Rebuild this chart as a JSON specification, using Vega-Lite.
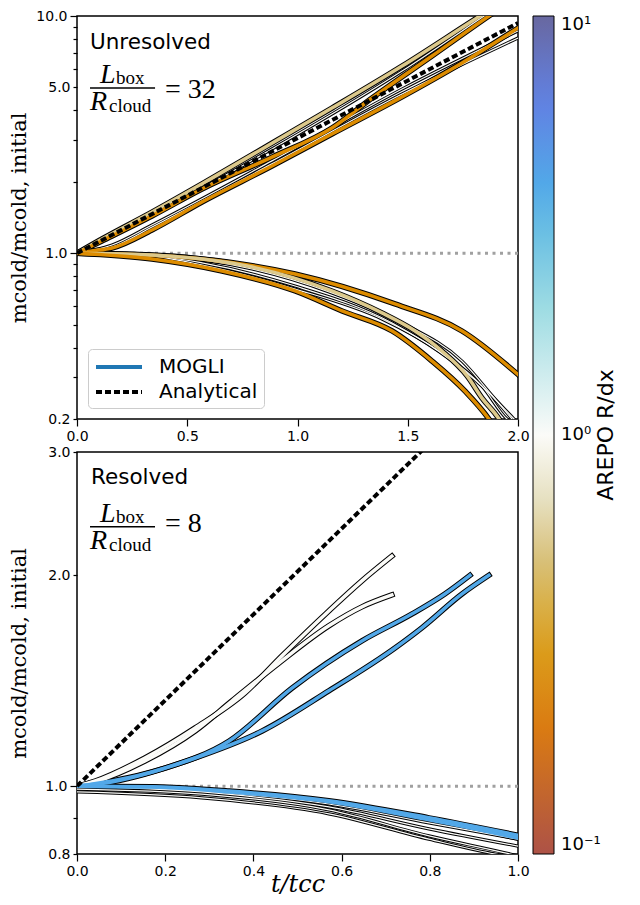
{
  "$schema": "https://vega.github.io/schema/vega-lite/v6.json",
  "background": "white",
  "padding": {"left": 7, "top": 8, "right": 5, "bottom": 5},
  "config": {
    "font": "DejaVu Sans",
    "view": {"stroke": "black", "strokeWidth": 1.5},
    "axis": {"grid": false, "domain": false, "tickColor": "black", "tickWidth": 1.2, "labelFont": "DejaVu Sans", "labelFontSize": 14, "labelColor": "black", "labelPadding": 3, "labelOverlap": false, "labelFlush": false, "titleColor": "black", "titleFontWeight": "normal", "titleFont": "DejaVu Serif"}
  },
  "datasets": {
    "curves": [
      {"panel": "top", "curve": "T1", "style": "thin", "R": 1, "t": 0, "m": 1},
      {"panel": "top", "curve": "T1", "style": "thin", "R": 1, "t": 0.34, "m": 1.449},
      {"panel": "top", "curve": "T1", "style": "thin", "R": 1, "t": 0.884, "m": 2.75},
      {"panel": "top", "curve": "T1", "style": "thin", "R": 1, "t": 1.474, "m": 5.86},
      {"panel": "top", "curve": "T1", "style": "thin", "R": 1, "t": 1.846, "m": 10.0},
      {"panel": "top", "curve": "T1", "style": "thin", "R": 1, "t": 2.0, "m": 12.5},
      {"panel": "top", "curve": "T2", "style": "thin", "R": 1, "t": 0, "m": 1},
      {"panel": "top", "curve": "T2", "style": "thin", "R": 1, "t": 0.159, "m": 1.083},
      {"panel": "top", "curve": "T2", "style": "thin", "R": 1, "t": 0.34, "m": 1.315},
      {"panel": "top", "curve": "T2", "style": "thin", "R": 1, "t": 0.884, "m": 2.45},
      {"panel": "top", "curve": "T2", "style": "thin", "R": 1, "t": 1.474, "m": 4.92},
      {"panel": "top", "curve": "T2", "style": "thin", "R": 1, "t": 2.0, "m": 8.65},
      {"panel": "top", "curve": "T3", "style": "thin", "R": 1, "t": 0, "m": 1},
      {"panel": "top", "curve": "T3", "style": "thin", "R": 1, "t": 0.159, "m": 1.062},
      {"panel": "top", "curve": "T3", "style": "thin", "R": 1, "t": 0.34, "m": 1.29},
      {"panel": "top", "curve": "T3", "style": "thin", "R": 1, "t": 0.884, "m": 2.38},
      {"panel": "top", "curve": "T3", "style": "thin", "R": 1, "t": 1.474, "m": 4.69},
      {"panel": "top", "curve": "T3", "style": "thin", "R": 1, "t": 2.0, "m": 8.08},
      {"panel": "top", "curve": "T4", "style": "thin", "R": 1, "t": 0, "m": 1},
      {"panel": "top", "curve": "T4", "style": "thin", "R": 1, "t": 0.3, "m": 0.985},
      {"panel": "top", "curve": "T4", "style": "thin", "R": 1, "t": 0.567, "m": 0.91},
      {"panel": "top", "curve": "T4", "style": "thin", "R": 1, "t": 0.989, "m": 0.727},
      {"panel": "top", "curve": "T4", "style": "thin", "R": 1, "t": 1.429, "m": 0.508},
      {"panel": "top", "curve": "T4", "style": "thin", "R": 1, "t": 1.701, "m": 0.351},
      {"panel": "top", "curve": "T4", "style": "thin", "R": 1, "t": 1.882, "m": 0.25},
      {"panel": "top", "curve": "T4", "style": "thin", "R": 1, "t": 1.973, "m": 0.2},
      {"panel": "top", "curve": "T4", "style": "thin", "R": 1, "t": 2.0, "m": 0.187},
      {"panel": "top", "curve": "T5", "style": "thin", "R": 1, "t": 0, "m": 1},
      {"panel": "top", "curve": "T5", "style": "thin", "R": 1, "t": 0.3, "m": 0.982},
      {"panel": "top", "curve": "T5", "style": "thin", "R": 1, "t": 0.567, "m": 0.892},
      {"panel": "top", "curve": "T5", "style": "thin", "R": 1, "t": 0.989, "m": 0.706},
      {"panel": "top", "curve": "T5", "style": "thin", "R": 1, "t": 1.383, "m": 0.528},
      {"panel": "top", "curve": "T5", "style": "thin", "R": 1, "t": 1.655, "m": 0.379},
      {"panel": "top", "curve": "T5", "style": "thin", "R": 1, "t": 1.837, "m": 0.275},
      {"panel": "top", "curve": "T5", "style": "thin", "R": 1, "t": 1.95, "m": 0.2},
      {"panel": "top", "curve": "T5", "style": "thin", "R": 1, "t": 1.98, "m": 0.19},
      {"panel": "top", "curve": "T6", "style": "thin", "R": 1, "t": 0, "m": 1},
      {"panel": "top", "curve": "T6", "style": "thin", "R": 1, "t": 0.4, "m": 0.975},
      {"panel": "top", "curve": "T6", "style": "thin", "R": 1, "t": 0.794, "m": 0.858},
      {"panel": "top", "curve": "T6", "style": "thin", "R": 1, "t": 1.156, "m": 0.68},
      {"panel": "top", "curve": "T6", "style": "thin", "R": 1, "t": 1.474, "m": 0.508},
      {"panel": "top", "curve": "T6", "style": "thin", "R": 1, "t": 1.746, "m": 0.351},
      {"panel": "top", "curve": "T6", "style": "thin", "R": 1, "t": 1.905, "m": 0.238},
      {"panel": "top", "curve": "T6", "style": "thin", "R": 1, "t": 1.982, "m": 0.2},
      {"panel": "top", "curve": "T6", "style": "thin", "R": 1, "t": 2.0, "m": 0.192},
      {"panel": "top", "curve": "U1", "style": "thick", "R": 0.55, "t": 0, "m": 1},
      {"panel": "top", "curve": "U1", "style": "thick", "R": 0.55, "t": 0.113, "m": 1.148},
      {"panel": "top", "curve": "U1", "style": "thick", "R": 0.55, "t": 0.34, "m": 1.49},
      {"panel": "top", "curve": "U1", "style": "thick", "R": 0.55, "t": 0.567, "m": 1.96},
      {"panel": "top", "curve": "U1", "style": "thick", "R": 0.55, "t": 0.884, "m": 2.91},
      {"panel": "top", "curve": "U1", "style": "thick", "R": 0.55, "t": 1.156, "m": 4.09},
      {"panel": "top", "curve": "U1", "style": "thick", "R": 0.55, "t": 1.474, "m": 6.15},
      {"panel": "top", "curve": "U1", "style": "thick", "R": 0.55, "t": 1.828, "m": 10.0},
      {"panel": "top", "curve": "U1", "style": "thick", "R": 0.55, "t": 2.0, "m": 12.6},
      {"panel": "top", "curve": "U2", "style": "thick", "R": 0.25, "t": 0, "m": 1},
      {"panel": "top", "curve": "U2", "style": "thick", "R": 0.25, "t": 0.113, "m": 1.126},
      {"panel": "top", "curve": "U2", "style": "thick", "R": 0.25, "t": 0.34, "m": 1.435},
      {"panel": "top", "curve": "U2", "style": "thick", "R": 0.25, "t": 0.567, "m": 1.865},
      {"panel": "top", "curve": "U2", "style": "thick", "R": 0.25, "t": 0.884, "m": 2.54},
      {"panel": "top", "curve": "U2", "style": "thick", "R": 0.25, "t": 1.156, "m": 3.37},
      {"panel": "top", "curve": "U2", "style": "thick", "R": 0.25, "t": 1.338, "m": 4.51},
      {"panel": "top", "curve": "U2", "style": "thick", "R": 0.25, "t": 1.61, "m": 6.78},
      {"panel": "top", "curve": "U2", "style": "thick", "R": 0.25, "t": 1.868, "m": 10.0},
      {"panel": "top", "curve": "U2", "style": "thick", "R": 0.25, "t": 2.0, "m": 12.1},
      {"panel": "top", "curve": "U3", "style": "thick", "R": 0.25, "t": 0, "m": 1},
      {"panel": "top", "curve": "U3", "style": "thick", "R": 0.25, "t": 0.068, "m": 1.022},
      {"panel": "top", "curve": "U3", "style": "thick", "R": 0.25, "t": 0.159, "m": 1.052},
      {"panel": "top", "curve": "U3", "style": "thick", "R": 0.25, "t": 0.34, "m": 1.253},
      {"panel": "top", "curve": "U3", "style": "thick", "R": 0.25, "t": 0.567, "m": 1.644},
      {"panel": "top", "curve": "U3", "style": "thick", "R": 0.25, "t": 0.884, "m": 2.33},
      {"panel": "top", "curve": "U3", "style": "thick", "R": 0.25, "t": 1.156, "m": 3.18},
      {"panel": "top", "curve": "U3", "style": "thick", "R": 0.25, "t": 1.474, "m": 4.56},
      {"panel": "top", "curve": "U3", "style": "thick", "R": 0.25, "t": 1.746, "m": 6.34},
      {"panel": "top", "curve": "U3", "style": "thick", "R": 0.25, "t": 2.0, "m": 8.9},
      {"panel": "top", "curve": "D1", "style": "thick", "R": 0.25, "t": 0, "m": 1},
      {"panel": "top", "curve": "D1", "style": "thick", "R": 0.25, "t": 0.204, "m": 0.992},
      {"panel": "top", "curve": "D1", "style": "thick", "R": 0.25, "t": 0.567, "m": 0.945},
      {"panel": "top", "curve": "D1", "style": "thick", "R": 0.25, "t": 0.989, "m": 0.817},
      {"panel": "top", "curve": "D1", "style": "thick", "R": 0.25, "t": 1.442, "m": 0.611},
      {"panel": "top", "curve": "D1", "style": "thick", "R": 0.25, "t": 1.746, "m": 0.47},
      {"panel": "top", "curve": "D1", "style": "thick", "R": 0.25, "t": 2.0, "m": 0.308},
      {"panel": "top", "curve": "D2", "style": "thick", "R": 0.55, "t": 0, "m": 1},
      {"panel": "top", "curve": "D2", "style": "thick", "R": 0.55, "t": 0.34, "m": 0.982},
      {"panel": "top", "curve": "D2", "style": "thick", "R": 0.55, "t": 0.794, "m": 0.874},
      {"panel": "top", "curve": "D2", "style": "thick", "R": 0.55, "t": 1.156, "m": 0.693},
      {"panel": "top", "curve": "D2", "style": "thick", "R": 0.55, "t": 1.383, "m": 0.56},
      {"panel": "top", "curve": "D2", "style": "thick", "R": 0.55, "t": 1.533, "m": 0.47},
      {"panel": "top", "curve": "D2", "style": "thick", "R": 0.55, "t": 1.655, "m": 0.387},
      {"panel": "top", "curve": "D2", "style": "thick", "R": 0.55, "t": 1.769, "m": 0.304},
      {"panel": "top", "curve": "D2", "style": "thick", "R": 0.55, "t": 1.837, "m": 0.245},
      {"panel": "top", "curve": "D2", "style": "thick", "R": 0.55, "t": 1.914, "m": 0.2},
      {"panel": "top", "curve": "D2", "style": "thick", "R": 0.55, "t": 1.95, "m": 0.175},
      {"panel": "top", "curve": "D3", "style": "thick", "R": 0.25, "t": 0, "m": 1},
      {"panel": "top", "curve": "D3", "style": "thick", "R": 0.25, "t": 0.34, "m": 0.945},
      {"panel": "top", "curve": "D3", "style": "thick", "R": 0.25, "t": 0.658, "m": 0.841},
      {"panel": "top", "curve": "D3", "style": "thick", "R": 0.25, "t": 0.989, "m": 0.693},
      {"panel": "top", "curve": "D3", "style": "thick", "R": 0.25, "t": 1.202, "m": 0.571},
      {"panel": "top", "curve": "D3", "style": "thick", "R": 0.25, "t": 1.429, "m": 0.47},
      {"panel": "top", "curve": "D3", "style": "thick", "R": 0.25, "t": 1.61, "m": 0.351},
      {"panel": "top", "curve": "D3", "style": "thick", "R": 0.25, "t": 1.76, "m": 0.262},
      {"panel": "top", "curve": "D3", "style": "thick", "R": 0.25, "t": 1.868, "m": 0.2},
      {"panel": "top", "curve": "D3", "style": "thick", "R": 0.25, "t": 1.905, "m": 0.178},
      {"panel": "bottom", "curve": "L3", "style": "thin", "R": 1, "t": 0, "m": 1},
      {"panel": "bottom", "curve": "L3", "style": "thin", "R": 1, "t": 0.283, "m": 0.984},
      {"panel": "bottom", "curve": "L3", "style": "thin", "R": 1, "t": 0.571, "m": 0.943},
      {"panel": "bottom", "curve": "L3", "style": "thin", "R": 1, "t": 0.798, "m": 0.886},
      {"panel": "bottom", "curve": "L3", "style": "thin", "R": 1, "t": 1.0, "m": 0.84},
      {"panel": "bottom", "curve": "L4", "style": "thin", "R": 1, "t": 0, "m": 1},
      {"panel": "bottom", "curve": "L4", "style": "thin", "R": 1, "t": 0.283, "m": 0.981},
      {"panel": "bottom", "curve": "L4", "style": "thin", "R": 1, "t": 0.571, "m": 0.934},
      {"panel": "bottom", "curve": "L4", "style": "thin", "R": 1, "t": 0.798, "m": 0.869},
      {"panel": "bottom", "curve": "L4", "style": "thin", "R": 1, "t": 1.0, "m": 0.821},
      {"panel": "bottom", "curve": "L5", "style": "thin", "R": 1, "t": 0, "m": 0.99},
      {"panel": "bottom", "curve": "L5", "style": "thin", "R": 1, "t": 0.283, "m": 0.974},
      {"panel": "bottom", "curve": "L5", "style": "thin", "R": 1, "t": 0.571, "m": 0.925},
      {"panel": "bottom", "curve": "L5", "style": "thin", "R": 1, "t": 0.798, "m": 0.849},
      {"panel": "bottom", "curve": "L5", "style": "thin", "R": 1, "t": 0.982, "m": 0.8},
      {"panel": "bottom", "curve": "L5", "style": "thin", "R": 1, "t": 1.0, "m": 0.795},
      {"panel": "bottom", "curve": "L6", "style": "thin", "R": 1, "t": 0, "m": 0.981},
      {"panel": "bottom", "curve": "L6", "style": "thin", "R": 1, "t": 0.283, "m": 0.962},
      {"panel": "bottom", "curve": "L6", "style": "thin", "R": 1, "t": 0.571, "m": 0.913},
      {"panel": "bottom", "curve": "L6", "style": "thin", "R": 1, "t": 0.798, "m": 0.84},
      {"panel": "bottom", "curve": "L6", "style": "thin", "R": 1, "t": 0.948, "m": 0.8},
      {"panel": "bottom", "curve": "L6", "style": "thin", "R": 1, "t": 1.0, "m": 0.79},
      {"panel": "bottom", "curve": "W1", "style": "thick", "R": 1, "t": 0, "m": 1},
      {"panel": "bottom", "curve": "W1", "style": "thick", "R": 1, "t": 0.041, "m": 1.017},
      {"panel": "bottom", "curve": "W1", "style": "thick", "R": 1, "t": 0.154, "m": 1.097},
      {"panel": "bottom", "curve": "W1", "style": "thick", "R": 1, "t": 0.268, "m": 1.211},
      {"panel": "bottom", "curve": "W1", "style": "thick", "R": 1, "t": 0.381, "m": 1.359},
      {"panel": "bottom", "curve": "W1", "style": "thick", "R": 1, "t": 0.465, "m": 1.535},
      {"panel": "bottom", "curve": "W1", "style": "thick", "R": 1, "t": 0.571, "m": 1.779},
      {"panel": "bottom", "curve": "W1", "style": "thick", "R": 1, "t": 0.646, "m": 1.964},
      {"panel": "bottom", "curve": "W1", "style": "thick", "R": 1, "t": 0.714, "m": 2.13},
      {"panel": "bottom", "curve": "W2", "style": "thick", "R": 1, "t": 0, "m": 1},
      {"panel": "bottom", "curve": "W2", "style": "thick", "R": 1, "t": 0.041, "m": 1.014},
      {"panel": "bottom", "curve": "W2", "style": "thick", "R": 1, "t": 0.154, "m": 1.086},
      {"panel": "bottom", "curve": "W2", "style": "thick", "R": 1, "t": 0.268, "m": 1.199},
      {"panel": "bottom", "curve": "W2", "style": "thick", "R": 1, "t": 0.351, "m": 1.323},
      {"panel": "bottom", "curve": "W2", "style": "thick", "R": 1, "t": 0.458, "m": 1.499},
      {"panel": "bottom", "curve": "W2", "style": "thick", "R": 1, "t": 0.571, "m": 1.694},
      {"panel": "bottom", "curve": "W2", "style": "thick", "R": 1, "t": 0.646, "m": 1.803},
      {"panel": "bottom", "curve": "W2", "style": "thick", "R": 1, "t": 0.714, "m": 1.875},
      {"panel": "bottom", "curve": "B1", "style": "thick", "R": 4, "t": 0, "m": 1},
      {"panel": "bottom", "curve": "B1", "style": "thick", "R": 4, "t": 0.079, "m": 1.017},
      {"panel": "bottom", "curve": "B1", "style": "thick", "R": 4, "t": 0.193, "m": 1.058},
      {"panel": "bottom", "curve": "B1", "style": "thick", "R": 4, "t": 0.345, "m": 1.16},
      {"panel": "bottom", "curve": "B1", "style": "thick", "R": 4, "t": 0.488, "m": 1.381},
      {"panel": "bottom", "curve": "B1", "style": "thick", "R": 4, "t": 0.646, "m": 1.612},
      {"panel": "bottom", "curve": "B1", "style": "thick", "R": 4, "t": 0.76, "m": 1.762},
      {"panel": "bottom", "curve": "B1", "style": "thick", "R": 4, "t": 0.834, "m": 1.881},
      {"panel": "bottom", "curve": "B1", "style": "thick", "R": 4, "t": 0.891, "m": 2.0},
      {"panel": "bottom", "curve": "B2", "style": "thick", "R": 4, "t": 0, "m": 1},
      {"panel": "bottom", "curve": "B2", "style": "thick", "R": 4, "t": 0.079, "m": 1.014},
      {"panel": "bottom", "curve": "B2", "style": "thick", "R": 4, "t": 0.268, "m": 1.097},
      {"panel": "bottom", "curve": "B2", "style": "thick", "R": 4, "t": 0.42, "m": 1.199},
      {"panel": "bottom", "curve": "B2", "style": "thick", "R": 4, "t": 0.571, "m": 1.368},
      {"panel": "bottom", "curve": "B2", "style": "thick", "R": 4, "t": 0.721, "m": 1.575},
      {"panel": "bottom", "curve": "B2", "style": "thick", "R": 4, "t": 0.782, "m": 1.683},
      {"panel": "bottom", "curve": "B2", "style": "thick", "R": 4, "t": 0.873, "m": 1.881},
      {"panel": "bottom", "curve": "B2", "style": "thick", "R": 4, "t": 0.934, "m": 2.0},
      {"panel": "bottom", "curve": "BD1", "style": "thick", "R": 4, "t": 0, "m": 1},
      {"panel": "bottom", "curve": "BD1", "style": "thick", "R": 4, "t": 0.17, "m": 0.998},
      {"panel": "bottom", "curve": "BD1", "style": "thick", "R": 4, "t": 0.345, "m": 0.984},
      {"panel": "bottom", "curve": "BD1", "style": "thick", "R": 4, "t": 0.571, "m": 0.953},
      {"panel": "bottom", "curve": "BD1", "style": "thick", "R": 4, "t": 0.798, "m": 0.901},
      {"panel": "bottom", "curve": "BD1", "style": "thick", "R": 4, "t": 1.0, "m": 0.851},
      {"panel": "bottom", "curve": "BD2", "style": "thick", "R": 4, "t": 0, "m": 1},
      {"panel": "bottom", "curve": "BD2", "style": "thick", "R": 4, "t": 0.17, "m": 0.997},
      {"panel": "bottom", "curve": "BD2", "style": "thick", "R": 4, "t": 0.345, "m": 0.981},
      {"panel": "bottom", "curve": "BD2", "style": "thick", "R": 4, "t": 0.571, "m": 0.95},
      {"panel": "bottom", "curve": "BD2", "style": "thick", "R": 4, "t": 0.798, "m": 0.895},
      {"panel": "bottom", "curve": "BD2", "style": "thick", "R": 4, "t": 1.0, "m": 0.843}
    ],
    "analytic": [
      {"panel": "top", "label": "Analytical", "t": 0, "m": 1},
      {"panel": "top", "label": "Analytical", "t": 2.0, "m": 9.34},
      {"panel": "bottom", "label": "Analytical", "t": 0, "m": 1},
      {"panel": "bottom", "label": "Analytical", "t": 1.0, "m": 4.1}
    ]
  },
  "vconcat": [
    {
      "width": 441,
      "height": 403,
      "layer": [
        {"data": {"values": [{}]}, "mark": {"type": "rule", "color": "#a0a0a0", "strokeWidth": 3, "strokeDash": [3, 4.5]},
          "encoding": {"y": {"datum": 1, "type": "quantitative"}}},
        {"data": {"name": "curves"}, "transform": [{"filter": "datum.panel == 'top' && datum.style == 'thin'"}],
          "mark": {"type": "line", "stroke": "black", "strokeWidth": 3.2, "clip": true, "interpolate": "monotone", "strokeCap": "square"},
          "encoding": {
            "x": {"field": "t", "type": "quantitative", "scale": {"domain": [0, 2], "nice": false, "zero": false},
              "axis": {"values": [0, 0.5, 1, 1.5, 2], "format": ".1f", "tickSize": 7, "title": null}},
            "y": {"field": "m", "type": "quantitative", "scale": {"type": "log", "domain": [0.2, 10], "nice": false},
              "axis": {"values": [0.2, 0.3, 0.4, 0.5, 0.6, 0.7, 0.8, 0.9, 1, 2, 3, 4, 5, 6, 7, 8, 9, 10],
                "labelExpr": "indexof([0.2, 1, 5, 10], datum.value) >= 0 ? format(datum.value, '.1f') : ''",
                "tickSize": {"condition": {"test": "datum.value == 1 || datum.value == 10", "value": 7}, "value": 4},
                "title": "mcold/mcold, initial", "titleFontSize": 21, "titleX": -48}},
            "detail": {"field": "curve"}}},
        {"data": {"name": "curves"}, "transform": [{"filter": "datum.panel == 'top' && datum.style == 'thick'"}],
          "mark": {"type": "line", "stroke": "black", "strokeWidth": 5.5, "clip": true, "interpolate": "monotone", "strokeCap": "square"},
          "encoding": {"x": {"field": "t", "type": "quantitative"}, "y": {"field": "m", "type": "quantitative"}, "detail": {"field": "curve"}}},
        {"data": {"name": "curves"}, "transform": [{"filter": "datum.panel == 'top' && datum.style == 'thin'"}],
          "mark": {"type": "line", "strokeWidth": 1.2, "clip": true, "interpolate": "monotone"},
          "encoding": {"x": {"field": "t", "type": "quantitative"}, "y": {"field": "m", "type": "quantitative"}, "detail": {"field": "curve"},
            "color": {"field": "R", "type": "quantitative",
              "scale": {"type": "log", "interpolate": "rgb", "domain": [0.1, 0.2, 0.25, 0.35, 0.5, 0.7, 1, 1.6, 2.5, 4, 6.3, 10],
                "range": ["#ad5247", "#da7b12", "#dd8c00", "#daa830", "#d8c078", "#e6e0c0", "#fbfbf8", "#bfe8e6", "#7ccfe0", "#52a8e8", "#6280e2", "#6868a0"]},
              "legend": {"title": "AREPO R/dx", "values": [0.1, 1, 10],
                "labelExpr": "datum.value < 0.5 ? '10⁻¹' : datum.value < 5 ? '10⁰' : '10¹'",
                "gradientLength": 838, "gradientThickness": 21, "gradientStrokeColor": "black", "gradientStrokeWidth": 1,
                "labelFontSize": 18, "labelFont": "DejaVu Sans", "labelColor": "black", "labelOffset": 7, "labelBaseline": "middle", "labelOverlap": false,
                "titleOrient": "right", "titleAnchor": "middle", "titleFontSize": 22, "titleFontWeight": "normal", "titleFont": "DejaVu Sans", "titleColor": "black", "titlePadding": 17,
                "orient": "right", "direction": "vertical", "offset": 3,
                "encode": {"title": {"update": {"angle": {"value": 270}}}}}}}},
        {"data": {"name": "curves"}, "transform": [{"filter": "datum.panel == 'top' && datum.style == 'thick'"}],
          "mark": {"type": "line", "strokeWidth": 3.5, "clip": true, "interpolate": "monotone", "strokeCap": "square"},
          "encoding": {"x": {"field": "t", "type": "quantitative"}, "y": {"field": "m", "type": "quantitative"}, "detail": {"field": "curve"},
            "color": {"field": "R", "type": "quantitative"}}},
        {"data": {"name": "analytic"}, "transform": [{"filter": "datum.panel == 'top'"}],
          "mark": {"type": "line", "strokeWidth": 4, "clip": true},
          "encoding": {"x": {"field": "t", "type": "quantitative"}, "y": {"field": "m", "type": "quantitative"},
            "stroke": {"field": "label", "type": "nominal", "scale": {"domain": ["MOGLI", "Analytical"], "range": ["#1f77b4", "black"]},
              "legend": {"title": null, "orient": "bottom-left", "offset": 11, "padding": 6, "rowPadding": 3, "fillColor": "white", "strokeColor": "#cccccc", "cornerRadius": 4,
                "labelFontSize": 20, "labelFont": "DejaVu Sans", "labelColor": "black", "symbolType": "M-1,0H3.6", "symbolSize": 400, "symbolStrokeWidth": 4, "labelOffset": 41}},
            "strokeDash": {"field": "label", "type": "nominal", "scale": {"domain": ["MOGLI", "Analytical"], "range": [[1, 0], [6, 3]]},
              "legend": {"title": null, "orient": "bottom-left", "offset": 11, "padding": 6, "rowPadding": 3, "fillColor": "white", "strokeColor": "#cccccc", "cornerRadius": 4,
                "labelFontSize": 20, "labelFont": "DejaVu Sans", "labelColor": "black", "symbolType": "M-1,0H3.6", "symbolSize": 400, "symbolStrokeWidth": 4, "labelOffset": 41}}}},
        {"data": {"values": [{}]}, "mark": {"type": "text", "text": "Unresolved", "align": "left", "baseline": "alphabetic", "fontSize": 21.5, "font": "DejaVu Sans"},
          "encoding": {"x": {"datum": 0.059, "type": "quantitative"}, "y": {"datum": 7.26, "type": "quantitative"}}},
        {"data": {"values": [{}]}, "mark": {"type": "text", "text": "L", "align": "left", "baseline": "alphabetic", "fontSize": 28, "font": "Liberation Serif", "fontStyle": "italic"},
          "encoding": {"x": {"datum": 0.1043, "type": "quantitative"}, "y": {"datum": 5.22, "type": "quantitative"}}},
        {"data": {"values": [{}]}, "mark": {"type": "text", "text": "box", "align": "left", "baseline": "alphabetic", "fontSize": 19, "font": "Liberation Serif"},
          "encoding": {"x": {"datum": 0.177, "type": "quantitative"}, "y": {"datum": 5.15, "type": "quantitative"}}},
        {"data": {"values": [{}]}, "mark": {"type": "rule", "color": "black", "strokeWidth": 1.5},
          "encoding": {"x": {"datum": 0.059, "type": "quantitative"}, "x2": {"datum": 0.354}, "y": {"datum": 4.97, "type": "quantitative"}}},
        {"data": {"values": [{}]}, "mark": {"type": "text", "text": "R", "align": "left", "baseline": "alphabetic", "fontSize": 28, "font": "Liberation Serif", "fontStyle": "italic"},
          "encoding": {"x": {"datum": 0.059, "type": "quantitative"}, "y": {"datum": 4.02, "type": "quantitative"}}},
        {"data": {"values": [{}]}, "mark": {"type": "text", "text": "cloud", "align": "left", "baseline": "alphabetic", "fontSize": 19, "font": "Liberation Serif"},
          "encoding": {"x": {"datum": 0.145, "type": "quantitative"}, "y": {"datum": 3.94, "type": "quantitative"}}},
        {"data": {"values": [{}]}, "mark": {"type": "text", "text": "= 32", "align": "left", "baseline": "alphabetic", "fontSize": 28, "font": "Liberation Serif"},
          "encoding": {"x": {"datum": 0.399, "type": "quantitative"}, "y": {"datum": 4.51, "type": "quantitative"}}}
      ]
    },
    {
      "width": 441,
      "height": 402,
      "layer": [
        {"data": {"values": [{}]}, "mark": {"type": "rule", "color": "#a0a0a0", "strokeWidth": 3, "strokeDash": [3, 4.5]},
          "encoding": {"y": {"datum": 1, "type": "quantitative"}}},
        {"data": {"name": "curves"}, "transform": [{"filter": "datum.panel == 'bottom' && datum.style == 'thin'"}],
          "mark": {"type": "line", "stroke": "black", "strokeWidth": 3.2, "clip": true, "interpolate": "monotone", "strokeCap": "square"},
          "encoding": {
            "x": {"field": "t", "type": "quantitative", "scale": {"domain": [0, 1], "nice": false, "zero": false},
              "axis": {"values": [0, 0.2, 0.4, 0.6, 0.8, 1], "format": ".1f", "tickSize": 7, "title": "t/tcc", "titleFontSize": 24, "titleFontStyle": "italic", "titleBaseline": "alphabetic", "titleY": 37}},
            "y": {"field": "m", "type": "quantitative", "scale": {"type": "log", "domain": [0.8, 3], "nice": false},
              "axis": {"values": [0.8, 0.9, 1, 2, 3],
                "labelExpr": "datum.value == 0.9 ? '' : format(datum.value, '.1f')",
                "tickSize": {"condition": {"test": "datum.value == 1", "value": 7}, "value": 4},
                "title": "mcold/mcold, initial", "titleFontSize": 21, "titleX": -48}},
            "detail": {"field": "curve"}}},
        {"data": {"name": "curves"}, "transform": [{"filter": "datum.panel == 'bottom' && datum.style == 'thick'"}],
          "mark": {"type": "line", "stroke": "black", "strokeWidth": 5.5, "clip": true, "interpolate": "monotone", "strokeCap": "square"},
          "encoding": {"x": {"field": "t", "type": "quantitative"}, "y": {"field": "m", "type": "quantitative"}, "detail": {"field": "curve"}}},
        {"data": {"name": "curves"}, "transform": [{"filter": "datum.panel == 'bottom' && datum.style == 'thin'"}],
          "mark": {"type": "line", "strokeWidth": 1.2, "clip": true, "interpolate": "monotone"},
          "encoding": {"x": {"field": "t", "type": "quantitative"}, "y": {"field": "m", "type": "quantitative"}, "detail": {"field": "curve"},
            "color": {"field": "R", "type": "quantitative"}}},
        {"data": {"name": "curves"}, "transform": [{"filter": "datum.panel == 'bottom' && datum.style == 'thick'"}],
          "mark": {"type": "line", "strokeWidth": 3.5, "clip": true, "interpolate": "monotone", "strokeCap": "square"},
          "encoding": {"x": {"field": "t", "type": "quantitative"}, "y": {"field": "m", "type": "quantitative"}, "detail": {"field": "curve"},
            "color": {"field": "R", "type": "quantitative"}}},
        {"data": {"name": "analytic"}, "transform": [{"filter": "datum.panel == 'bottom'"}],
          "mark": {"type": "line", "strokeWidth": 4, "color": "black", "strokeDash": [6, 3], "clip": true},
          "encoding": {"x": {"field": "t", "type": "quantitative"}, "y": {"field": "m", "type": "quantitative"}}},
        {"data": {"values": [{}]}, "mark": {"type": "text", "text": "Resolved", "align": "left", "baseline": "alphabetic", "fontSize": 21.5, "font": "DejaVu Sans"},
          "encoding": {"x": {"datum": 0.0317, "type": "quantitative"}, "y": {"datum": 2.7, "type": "quantitative"}}},
        {"data": {"values": [{}]}, "mark": {"type": "text", "text": "L", "align": "left", "baseline": "alphabetic", "fontSize": 28, "font": "Liberation Serif", "fontStyle": "italic"},
          "encoding": {"x": {"datum": 0.0522, "type": "quantitative"}, "y": {"datum": 2.385, "type": "quantitative"}}},
        {"data": {"values": [{}]}, "mark": {"type": "text", "text": "box", "align": "left", "baseline": "alphabetic", "fontSize": 19, "font": "Liberation Serif"},
          "encoding": {"x": {"datum": 0.0884, "type": "quantitative"}, "y": {"datum": 2.375, "type": "quantitative"}}},
        {"data": {"values": [{}]}, "mark": {"type": "rule", "color": "black", "strokeWidth": 1.5},
          "encoding": {"x": {"datum": 0.0295, "type": "quantitative"}, "x2": {"datum": 0.1769}, "y": {"datum": 2.346, "type": "quantitative"}}},
        {"data": {"values": [{}]}, "mark": {"type": "text", "text": "R", "align": "left", "baseline": "alphabetic", "fontSize": 28, "font": "Liberation Serif", "fontStyle": "italic"},
          "encoding": {"x": {"datum": 0.0295, "type": "quantitative"}, "y": {"datum": 2.18, "type": "quantitative"}}},
        {"data": {"values": [{}]}, "mark": {"type": "text", "text": "cloud", "align": "left", "baseline": "alphabetic", "fontSize": 19, "font": "Liberation Serif"},
          "encoding": {"x": {"datum": 0.0726, "type": "quantitative"}, "y": {"datum": 2.17, "type": "quantitative"}}},
        {"data": {"values": [{}]}, "mark": {"type": "text", "text": "= 8", "align": "left", "baseline": "alphabetic", "fontSize": 28, "font": "Liberation Serif"},
          "encoding": {"x": {"datum": 0.1995, "type": "quantitative"}, "y": {"datum": 2.307, "type": "quantitative"}}}
      ]
    }
  ],
  "spacing": 33,
  "bounds": "flush",
  "resolve": {
    "scale": {"color": "shared", "stroke": "independent", "strokeDash": "independent"},
    "legend": {"color": "shared", "stroke": "independent", "strokeDash": "independent"}
  }
}
